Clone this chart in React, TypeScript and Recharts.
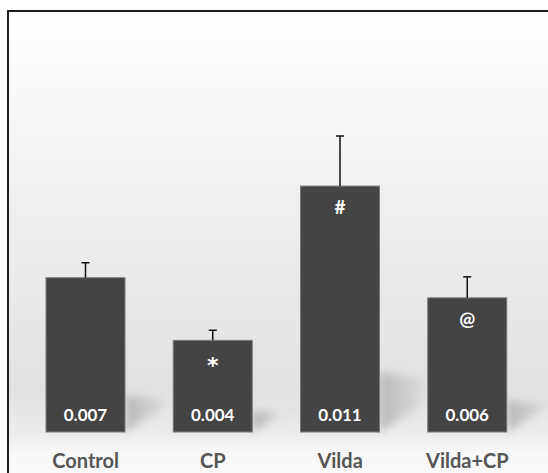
import React from "react";
import { BarChart, Bar, XAxis, YAxis, LabelList } from "recharts";

const categories = ["Control", "CP", "Vilda", "Vilda+CP"];
const means = [0.0069, 0.0041, 0.011, 0.006];
const errors = [0.00067, 0.00045, 0.00224, 0.00094];
const marks = ["", "*", "#", "@"];

const data = categories.map((c, i) => ({
  name: c,
  value: means[i],
  err: errors[i],
  mark: marks[i],
  label: means[i].toFixed(3),
}));

const FONT = "Lato, 'Open Sans', sans-serif";

const ShadowBar = (props: any) => {
  const { x, y, width, height, fill, payload } = props;
  const bx = x + width;
  const by = y + height;
  const hs = height * 0.24;
  const errPx = (height * payload.err) / payload.value;
  const cx = x + width / 2;
  return (
    <g>
      <path
        d={`M${bx},${by - hs} L${bx + 52},${by - hs + 6} L${bx + 52},${by - 32} L${bx},${by} Z`}
        fill="url(#shadowGrad)"
        filter="url(#blurShadow)"
      />
      <rect x={x} y={y} width={width} height={height} fill={fill} stroke="#7a7a7a" strokeWidth={1} />
      <line x1={cx} y1={y} x2={cx} y2={y - errPx} stroke="#111111" strokeWidth={1.5} />
      <line x1={cx - 4} y1={y - errPx} x2={cx + 4} y2={y - errPx} stroke="#111111" strokeWidth={1.5} />
    </g>
  );
};

const ValueLabel = (props: any) => {
  const { x, y, width, height, value } = props;
  return (
    <text
      x={x + width / 2}
      y={y + height - 11}
      textAnchor="middle"
      fill="#ffffff"
      fontFamily={FONT}
      fontWeight={700}
      fontSize={17}
    >
      {value}
    </text>
  );
};

const MarkLabel = (props: any) => {
  const { x, y, width, value } = props;
  if (!value) return null;
  const isStar = value === "*";
  return (
    <text
      x={x + width / 2}
      y={y + (isStar ? 33 : 28)}
      textAnchor="middle"
      fill="#ffffff"
      fontFamily={isStar ? "'DejaVu Sans', sans-serif" : FONT}
      fontWeight={700}
      fontSize={isStar ? 22 : 19}
    >
      {value}
    </text>
  );
};

export default function App() {
  return (
    <div style={{ position: "absolute", left: 0, top: 0, width: 548, height: 473, overflow: "hidden" }}>
      <div
        style={{
          position: "absolute",
          left: 7,
          top: 10,
          width: 560,
          height: 490,
          border: "2px solid #1e1e1e",
          background:
            "linear-gradient(to bottom, #ffffff 0%, #f3f3f3 30%, #e8e8e8 60%, #e1e1e1 77%, #ececec 86%, #f8f8f8 90%, #fcfcfc 100%)",
        }}
      />
      <div style={{ position: "absolute", left: 0, top: 0 }}>
        <BarChart
          width={548}
          height={473}
          data={data}
          margin={{ top: 119, right: 17, bottom: 0, left: 22 }}
          barCategoryGap={0}
        >
          <defs>
            <linearGradient id="shadowGrad" x1="0" y1="0" x2="1" y2="0">
              <stop offset="0%" stopColor="#b5b5b5" stopOpacity={0.95} />
              <stop offset="60%" stopColor="#c4c4c4" stopOpacity={0.6} />
              <stop offset="100%" stopColor="#d8d8d8" stopOpacity={0} />
            </linearGradient>
            <filter id="blurShadow" x="-30%" y="-30%" width="160%" height="160%">
              <feGaussianBlur stdDeviation="4" />
            </filter>
          </defs>
          <XAxis
            dataKey="name"
            axisLine={false}
            tickLine={false}
            height={41}
            tickMargin={16}
            tick={{ fill: "#555555", fontSize: 20, fontWeight: 700, fontFamily: FONT }}
          />
          <YAxis hide domain={[0, 0.014]} />
          <Bar dataKey="value" fill="#444444" barSize={79} shape={ShadowBar} isAnimationActive={false}>
            <LabelList dataKey="label" content={ValueLabel} />
            <LabelList dataKey="mark" content={MarkLabel} />
          </Bar>
        </BarChart>
      </div>
    </div>
  );
}
